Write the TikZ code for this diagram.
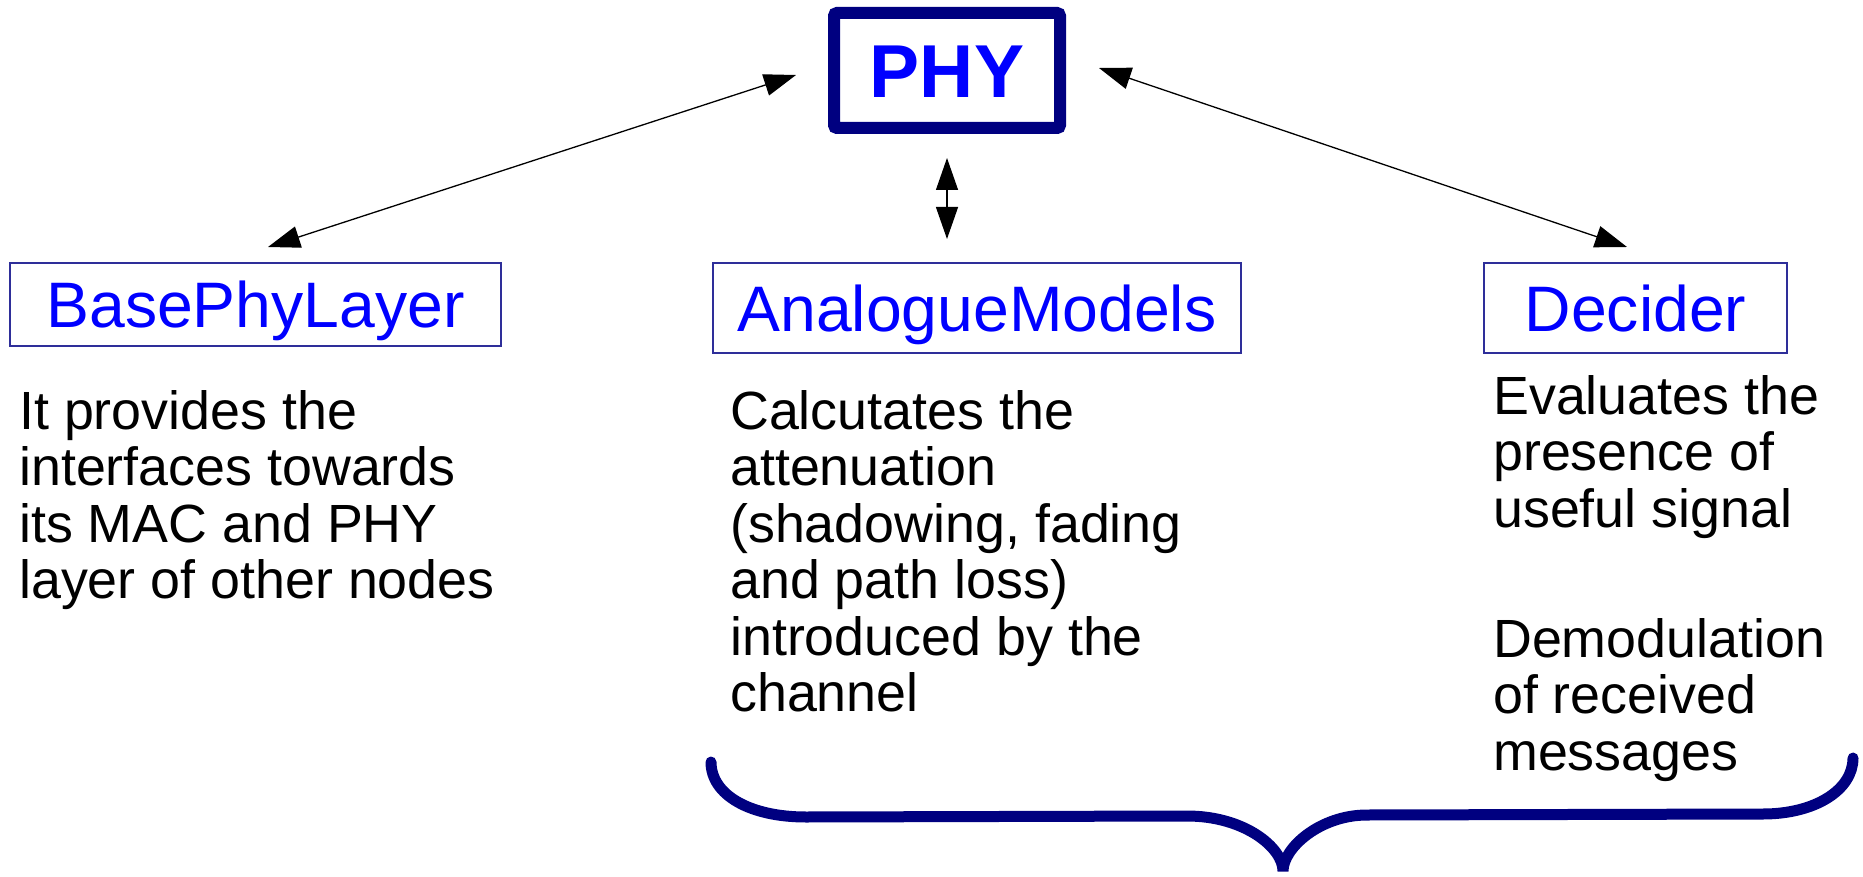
\documentclass[tikz,border=0pt]{standalone}
\usepackage{fontspec}
\setmainfont{Liberation Sans}
\usetikzlibrary{arrows.meta}
\definecolor{navyc}{HTML}{000080}
\definecolor{boxc}{HTML}{2E2E99}
\definecolor{labc}{HTML}{0000FF}
\begin{document}
\begin{tikzpicture}[x=1pt,y=-1pt,
  lab/.style={draw=boxc, line width=1.5pt, text=labc, inner sep=0pt,
    font=\fontsize{64.3}{70}\selectfont, text height=46pt, text depth=0pt},
  body/.style={inner sep=0pt, anchor=base west, font=\fontsize{53.8}{56.5}\selectfont},
  conn/.style={line width=1.3pt, {Triangle[length=32pt,width=22pt]}-{Triangle[length=32pt,width=22pt]}},
  brace/.style={draw=navyc, line width=11pt, line cap=round}
]
\useasboundingbox (0,0) rectangle (1863,877);
\node[draw=navyc, line width=12pt, rounded corners=3pt, minimum width=226pt, minimum height=115pt,
  inner sep=0pt, text=labc, font=\fontsize{75}{80}\bfseries\selectfont, text height=53.7pt, text depth=0pt]
  (phy) at (947,70.5) {PHY};
\node[lab, minimum width=491pt, minimum height=83pt] (bpl) at (255.5,304.5) {BasePhyLayer};
\node[lab, minimum width=528pt, minimum height=90pt] (am) at (977,308) {AnalogueModels};
\node[lab, minimum width=303pt, minimum height=90pt] (dec) at (1635.5,308) {Decider};

\coordinate (la) at (796,75);
\coordinate (lb) at (268,247);
\coordinate (va) at (947,158);
\coordinate (vb) at (947,239);
\coordinate (ra) at (1099,68);
\coordinate (rb) at (1627,247);
\draw[conn] (la) -- (lb);
\draw[conn] (va) -- (vb);
\draw[conn] (ra) -- (rb);

\node[body] (t1) at (19,429) {\begin{tabular}[t]{@{}l@{}}It provides the\\ interfaces towards\\ its MAC and PHY\\ layer of other nodes\end{tabular}};
\node[body] (t2) at (730,429) {\begin{tabular}[t]{@{}l@{}}Calcutates the\\ attenuation\\ (shadowing, fading\\ and path loss)\\ introduced by the\\ channel\end{tabular}};
\node[body] (t3) at (1493,414) {\begin{tabular}[t]{@{}l@{}}Evaluates the\\ presence of\\ useful signal\\[73.5pt] Demodulation\\ of received\\ messages\end{tabular}};

\draw[brace] (711,762) .. controls (711,795) and (750,817) .. (806,817) -- (1187,816)
  .. controls (1245,816) and (1283,848) .. (1283,871)
  .. controls (1283,848) and (1320,815) .. (1367,815) -- (1763,814)
  .. controls (1815,814) and (1853,790) .. (1853,758);
\end{tikzpicture}
\end{document}
